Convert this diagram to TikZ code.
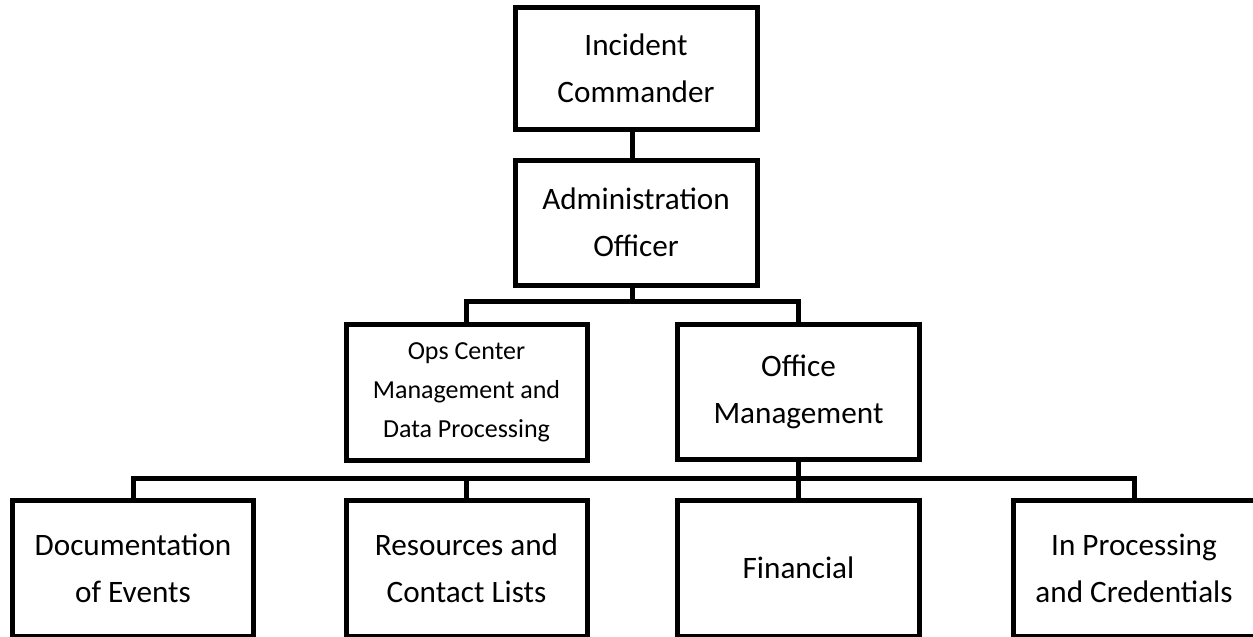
\documentclass[tikz,border=0pt]{standalone}
\usepackage{fontspec}
\setmainfont{Carlito}
\begin{document}
\begin{tikzpicture}[x=1pt,y=-1pt,
  box/.style={draw=black, line width=5pt, rectangle, inner sep=0pt, align=center,
    font=\fontsize{31.2}{47}\selectfont},
  smallbox/.style={box, font=\fontsize{26}{39}\selectfont},
  link/.style={draw=black, line width=5pt}]
\useasboundingbox (0,0) rectangle (1253,637);
\clip (0,0) rectangle (1253,637);
\fill[white] (0,0) rectangle (1253,637);
\node[box, minimum width=242pt, minimum height=122pt] (ic) at (636,68) {Incident\\Commander};
\node[box, minimum width=242pt, minimum height=125pt] (ao) at (636,222.5) {Administration\\Officer};
\node[smallbox, minimum width=241pt, minimum height=136pt] (ops) at (466.5,392) {Ops Center\\Management and\\Data Processing};
\node[box, minimum width=242pt, minimum height=135pt] (off) at (798.5,391.5) {Office\\Management};
\node[box, minimum width=241pt, minimum height=136pt] (doc) at (133,568) {Documentation\\of Events};
\node[box, minimum width=241pt, minimum height=136pt] (res) at (466.5,568) {Resources and\\Contact Lists};
\node[box, minimum width=242pt, minimum height=136pt] (fin) at (798.5,568) {Financial};
\node[box, minimum width=242pt, minimum height=136pt] (inp) at (1134,568) {In Processing\\and Credentials};
\coordinate (b1) at (632,301);
\coordinate (b2) at (798.5,478);
\draw[link] (ic.south -| b1) -- (ao.north -| b1);
\draw[link] (ao.south -| b1) -- (b1);
\draw[link] (ops.north) |- (b1) -| (off.north);
\draw[link] (off.south) -- (fin.north);
\draw[link] (doc.north) |- (b2) -| (inp.north);
\draw[link] (res.north) -- (res.north |- b2);
\end{tikzpicture}
\end{document}
